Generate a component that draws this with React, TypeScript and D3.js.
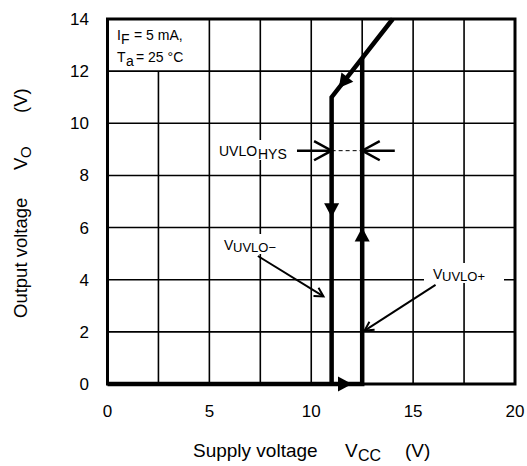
import React from "react";
import * as d3 from "d3";

const W = 527;
const H = 466;

// axis ticks
const xTicks = [0, 5, 10, 15, 20];
const yTicks = [0, 2, 4, 6, 8, 10, 12, 14];
const xGrid = [2.5, 5, 7.5, 10, 12.5, 15, 17.5];
const yGrid = [2, 4, 6, 8, 10, 12];

// hysteresis curve (Vcc, Vo)
const risingPath: [number, number][] = [
  [0, 0],
  [12.5, 0],
  [12.5, 12.5],
];
const fallingPath: [number, number][] = [
  [14.0, 14.0],
  [11.0, 11.0],
  [11.0, 0],
];
// direction arrows: [x, y, direction]
const dirArrows: [number, number, string][] = [
  [12.0, 0, "right"],
  [12.5, 6.0, "up"],
  [11.0, 6.4, "down"],
  [11.35, 11.35, "downleft"],
];

// annotation pointers [x1,y1,x2,y2]
const pointerMinus = [7.38, 4.91, 10.6, 3.36];
const pointerPlus = [16.1, 3.8, 12.62, 2.05];
const hysY = 8.95;
const hysLeft = [9.3, 11.0];
const hysRight = [14.1, 12.5];

export default function App() {
  const x = d3.scaleLinear().domain([0, 20]).range([107.5, 515]);
  const y = d3.scaleLinear().domain([0, 14]).range([384, 19]);
  const line = d3
    .line<[number, number]>()
    .x((d) => x(d[0]))
    .y((d) => y(d[1]));
  const font = "Arial, 'Liberation Sans', sans-serif";

  const triangle = (cx: number, cy: number, dir: string) => {
    const len = 14;
    const half = 7.5;
    let ang = 0;
    if (dir === "right") ang = 0;
    if (dir === "up") ang = -90;
    if (dir === "down") ang = 90;
    if (dir === "downleft") {
      const dx = x(0) - x(1);
      const dy = y(0) - y(1);
      ang = (Math.atan2(dy, dx) * 180) / Math.PI;
    }
    return (
      <path
        key={`${cx}-${cy}-${dir}`}
        d={`M0,0 L${-len},${-half} L${-len},${half} Z`}
        transform={`translate(${cx},${cy}) rotate(${ang})`}
        fill="#000"
      />
    );
  };

  const openArrow = (x1: number, y1: number, x2: number, y2: number, sw: number, head: number) => {
    const px1 = x(x1), py1 = y(y1), px2 = x(x2), py2 = y(y2);
    const a = Math.atan2(py2 - py1, px2 - px1);
    const spread = 0.5;
    const h1 = [px2 - head * Math.cos(a - spread), py2 - head * Math.sin(a - spread)];
    const h2 = [px2 - head * Math.cos(a + spread), py2 - head * Math.sin(a + spread)];
    return (
      <g>
        <line x1={px1} y1={py1} x2={px2} y2={py2} stroke="#000" strokeWidth={sw} />
        <path
          d={`M${h1[0]},${h1[1]} L${px2},${py2} L${h2[0]},${h2[1]}`}
          fill="none"
          stroke="#000"
          strokeWidth={sw}
        />
      </g>
    );
  };

  return (
    <svg width={W} height={H} style={{ position: "absolute", left: 0, top: 0, background: "#fff" }}>
      <rect x={0} y={0} width={W} height={H} fill="#fff" />
      {/* grid */}
      {xGrid.map((v) => (
        <line
          key={"gx" + v}
          x1={x(v)}
          x2={x(v)}
          y1={y(0)}
          y2={v < 5 ? y(12) : y(14)}
          stroke="#000"
          strokeWidth={1.6}
        />
      ))}
      {yGrid.map((v) => (
        <line key={"gy" + v} x1={x(0)} x2={x(20)} y1={y(v)} y2={y(v)} stroke="#000" strokeWidth={1.6} />
      ))}
      {/* label backgrounds breaking grid */}
      <rect x={216} y={140} width={76} height={20} fill="#fff" />
      <rect x={221} y={234} width={64} height={20} fill="#fff" />
      <rect x={424} y={263} width={80} height={20} fill="#fff" />
      {/* border */}
      <rect
        x={x(0)}
        y={y(14)}
        width={x(20) - x(0)}
        height={y(0) - y(14)}
        fill="none"
        stroke="#000"
        strokeWidth={3}
      />
      {/* tick labels */}
      {xTicks.map((v) => (
        <text key={"xt" + v} x={x(v)} y={417} textAnchor="middle" fontFamily={font} fontSize={17}>
          {v}
        </text>
      ))}
      {yTicks.map((v) => (
        <text
          key={"yt" + v}
          x={89}
          y={y(v) + 6}
          textAnchor="end"
          fontFamily={font}
          fontSize={17}
        >
          {v}
        </text>
      ))}
      {/* axis titles */}
      <text x={193} y={457} fontFamily={font} fontSize={19}>
        Supply voltage
      </text>
      <text x={345} y={457} fontFamily={font} fontSize={19}>
        V
      </text>
      <text x={358} y={461} fontFamily={font} fontSize={16}>
        CC
      </text>
      <text x={405} y={457} fontFamily={font} fontSize={19}>
        (V)
      </text>
      <g transform="translate(27,0) rotate(-90)">
        <text x={-318} y={0} fontFamily={font} fontSize={18.5}>
          Output voltage
        </text>
        <text x={-170} y={0} fontFamily={font} fontSize={18.5}>
          V
        </text>
        <text x={-158} y={4} fontFamily={font} fontSize={15}>
          O
        </text>
        <text x={-113} y={0} fontFamily={font} fontSize={18.5}>
          (V)
        </text>
      </g>
      {/* condition box */}
      <text x={117} y={40} fontFamily={font} fontSize={14}>
        I
      </text>
      <text x={121} y={44} fontFamily={font} fontSize={14}>
        F
      </text>
      <text x={134} y={40} fontFamily={font} fontSize={14}>
        = 5 mA,
      </text>
      <text x={117} y={62} fontFamily={font} fontSize={14}>
        T
      </text>
      <text x={126} y={66} fontFamily={font} fontSize={14}>
        a
      </text>
      <text x={136} y={62} fontFamily={font} fontSize={14}>
        = 25 °C
      </text>
      {/* curve */}
      <path d={line(risingPath) || ""} fill="none" stroke="#000" strokeWidth={4.5} strokeLinejoin="miter" />
      <path d={line(fallingPath) || ""} fill="none" stroke="#000" strokeWidth={4.5} strokeLinejoin="miter" />
      {dirArrows.map(([ax, ay, d]) => triangle(x(ax), y(ay), d))}
      {/* UVLO hysteresis */}
      {openArrow(hysLeft[0], hysY, hysLeft[1], hysY, 2.5, 20)}
      {openArrow(hysRight[0], hysY, hysRight[1], hysY, 2.5, 20)}
      <line
        x1={x(hysLeft[1])}
        x2={x(hysRight[1])}
        y1={y(hysY)}
        y2={y(hysY)}
        stroke="#000"
        strokeWidth={1}
        strokeDasharray="4,3"
      />
      <text x={219} y={156} fontFamily={font} fontSize={14}>
        UVLO
      </text>
      <text x={258} y={159} fontFamily={font} fontSize={14}>
        HYS
      </text>
      {/* VUVLO- */}
      <text x={224} y={250} fontFamily={font} fontSize={14}>
        V
      </text>
      <text x={233} y={252} fontFamily={font} fontSize={13}>
        UVLO−
      </text>
      {openArrow(pointerMinus[0], pointerMinus[1], pointerMinus[2], pointerMinus[3], 2, 10)}
      {/* VUVLO+ */}
      <text x={433} y={279} fontFamily={font} fontSize={14}>
        V
      </text>
      <text x={442} y={281} fontFamily={font} fontSize={13}>
        UVLO+
      </text>
      {openArrow(pointerPlus[0], pointerPlus[1], pointerPlus[2], pointerPlus[3], 2, 10)}
    </svg>
  );
}
